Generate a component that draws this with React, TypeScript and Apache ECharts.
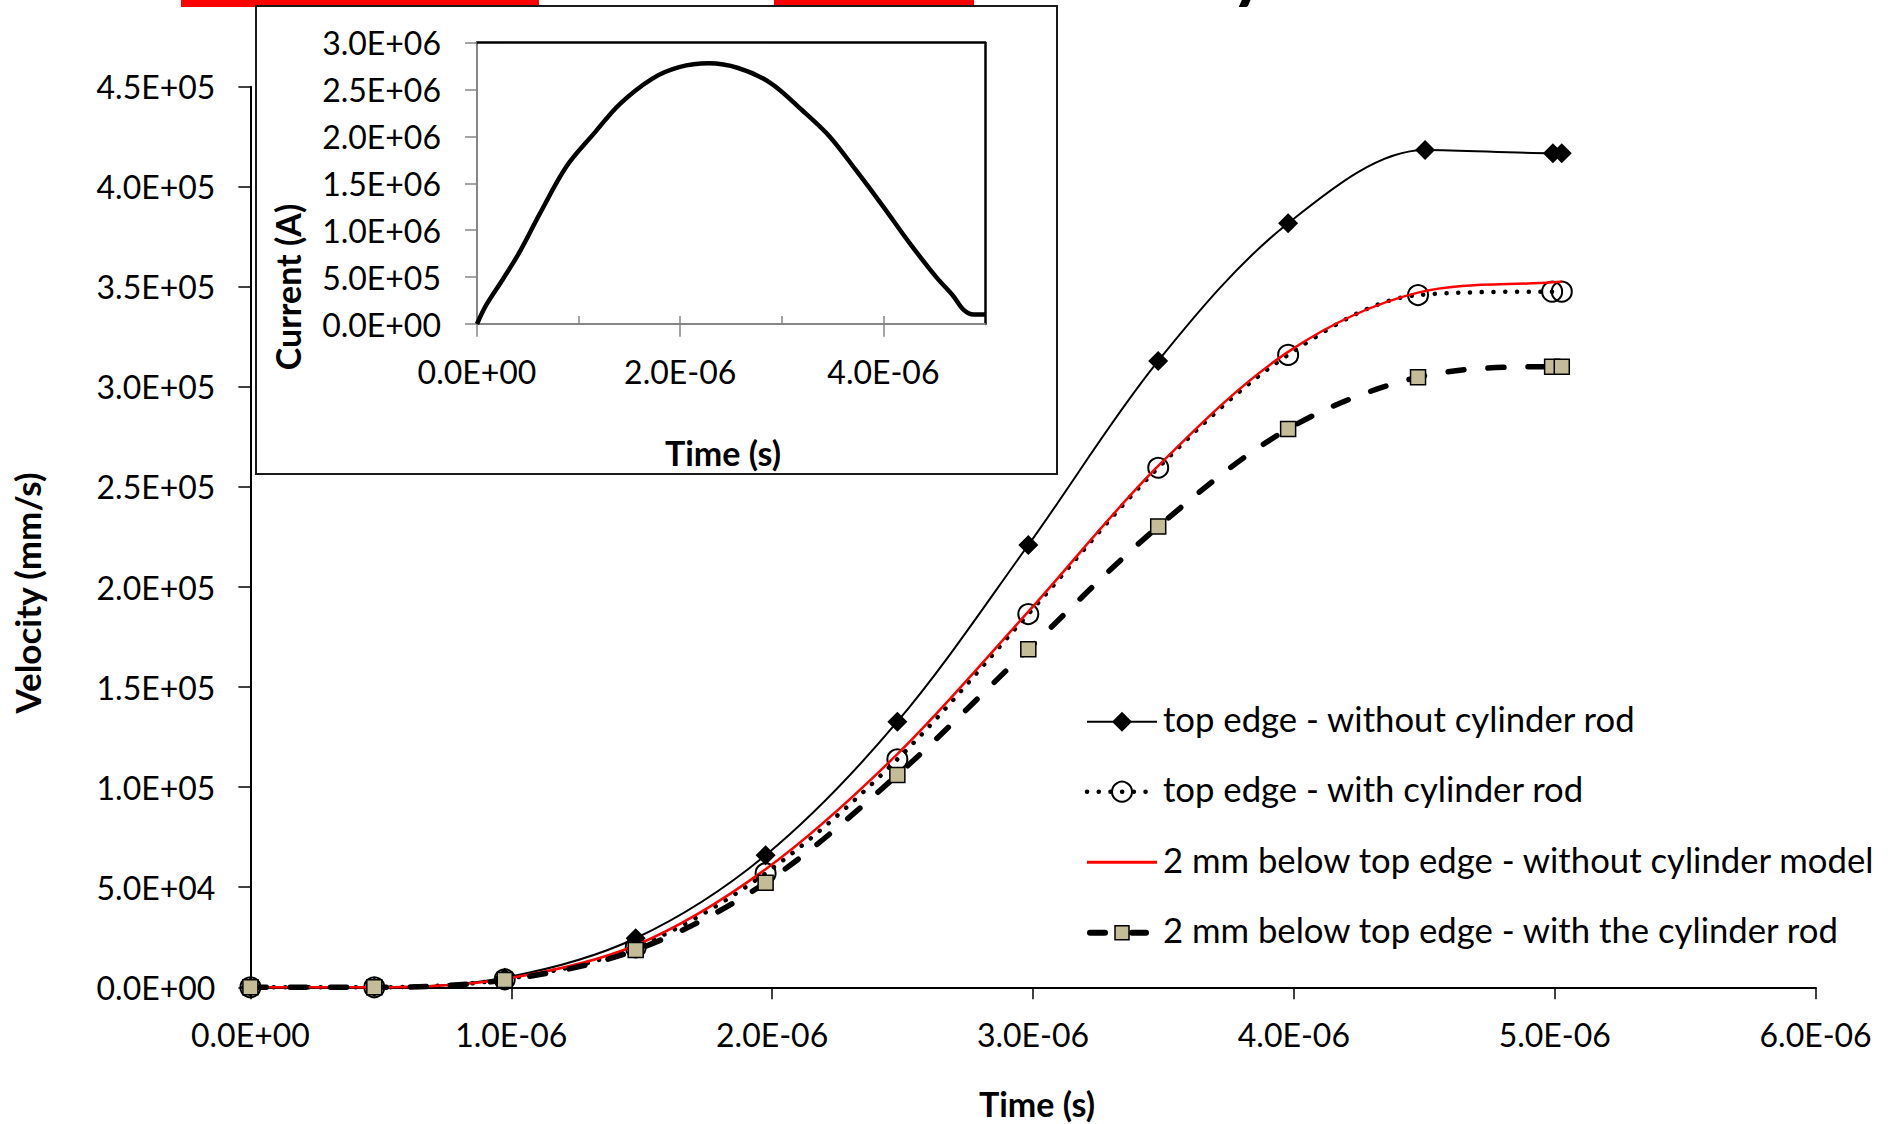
import React, { useEffect, useRef } from 'react';
import * as echarts from 'echarts';

// ---- data (time in seconds, velocity in mm/s, current in A) ----
const timeTopNoRod = [0, 0.475e-6, 0.975e-6, 1.477e-6, 1.975e-6, 2.48e-6, 2.982e-6, 3.48e-6, 3.978e-6, 4.503e-6, 4.993e-6, 5.027e-6];
const timeOther = [0, 0.475e-6, 0.975e-6, 1.477e-6, 1.975e-6, 2.48e-6, 2.982e-6, 3.48e-6, 3.978e-6, 4.476e-6, 4.99e-6, 5.027e-6];
const velTopNoRod = [0, 0, 4800, 24500, 66000, 132700, 221000, 313000, 381800, 418400, 416800, 416800];
const velTopRod = [0, 0, 4000, 20000, 57000, 113900, 186500, 259600, 316000, 345900, 347600, 347600];
const velBelowNoRod = [0, 0, 4200, 21000, 59000, 116500, 187700, 260500, 317500, 347100, 352300, 352600];
const velBelowRod = [0, 0, 3650, 18600, 52300, 106100, 168900, 230200, 279000, 304800, 310100, 310100];

const currentTime = [0, 0.09e-6, 0.25e-6, 0.41e-6, 0.62e-6, 0.88e-6, 1.15e-6, 1.41e-6, 1.73e-6, 1.99e-6, 2.28e-6, 2.57e-6, 2.89e-6, 3.2e-6, 3.47e-6, 3.73e-6, 4.0e-6, 4.26e-6, 4.52e-6, 4.68e-6, 4.79e-6, 4.89e-6, 5.0e-6];
const currentAmps = [0, 0.2e6, 0.47e6, 0.75e6, 1.18e6, 1.68e6, 2.03e6, 2.35e6, 2.62e6, 2.74e6, 2.78e6, 2.73e6, 2.57e6, 2.28e6, 2.0e6, 1.64e6, 1.25e6, 0.86e6, 0.5e6, 0.31e6, 0.15e6, 0.1e6, 0.1e6];

const seriesNames = [
  'top edge - without cylinder rod',
  'top edge - with cylinder rod',
  '2 mm below top edge - without cylinder model',
  '2 mm below top edge - with the cylinder rod',
];
const insetLabelTicks = [0, 2e-6, 4e-6];
const insetInnerTicks = [1e-6, 2e-6, 3e-6, 4e-6];

const FONT = 'Lato, "Noto Sans", sans-serif';
const GRAY = '#868686';
const TAN = '#c4bc96';
const SMOOTH = 0.33;

function sci(v: number): string {
  if (v === 0) return '0.0E+00';
  let e = Math.floor(Math.log10(Math.abs(v)) + 1e-9);
  let s = (v / Math.pow(10, e)).toFixed(1);
  if (s === '10.0') { e += 1; s = '1.0'; }
  return s + 'E' + (e < 0 ? '-' : '+') + String(Math.abs(e)).padStart(2, '0');
}

const zip = (xs: number[], ys: number[]) => xs.map((x, i) => [x, ys[i]]);

function App() {
  const ref = useRef<HTMLDivElement>(null);
  useEffect(() => {
    if (!ref.current) return;
    const chart = echarts.init(ref.current, null, { renderer: 'svg' });

    const legX0 = 1087, legX1 = 1157, legCx = 1122, legTx = 1163;
    const legY = [721.7, 791.7, 862.3, 932.7];
    const legFont = `34.7px ${FONT}`;
    const boldFont = `bold 34px ${FONT}`;

    const legend: any[] = [
      { type: 'line', shape: { x1: legX0, y1: legY[0], x2: legX1, y2: legY[0] }, style: { stroke: '#000', lineWidth: 2 } },
      { type: 'polygon', shape: { points: [[legCx, legY[0] - 10], [legCx + 10, legY[0]], [legCx, legY[0] + 10], [legCx - 10, legY[0]]] }, style: { fill: '#000' } },
      { type: 'line', shape: { x1: legX0, y1: legY[1], x2: legX1, y2: legY[1] }, style: { stroke: '#000', lineWidth: 4.5, lineDash: [0.1, 11.6], lineCap: 'round' } },
      { type: 'circle', shape: { cx: legCx, cy: legY[1], r: 10 }, style: { fill: 'none', stroke: '#000', lineWidth: 2 } },
      { type: 'line', shape: { x1: legX0, y1: legY[2], x2: legX1, y2: legY[2] }, style: { stroke: '#ff0000', lineWidth: 3 } },
      { type: 'line', shape: { x1: legX0 + 3, y1: legY[3], x2: 1105, y2: legY[3] }, style: { stroke: '#000', lineWidth: 6, lineCap: 'round' } },
      { type: 'line', shape: { x1: 1132, y1: legY[3], x2: 1146, y2: legY[3] }, style: { stroke: '#000', lineWidth: 6, lineCap: 'round' } },
      { type: 'rect', shape: { x: legCx - 7, y: legY[3] - 7, width: 14, height: 14 }, style: { fill: TAN, stroke: '#000', lineWidth: 1.5 } },
    ];
    seriesNames.forEach((n, i) => {
      legend.push({ type: 'text', x: legTx, y: legY[i] - 3, style: { text: n, font: legFont, fill: '#000', align: 'left', verticalAlign: 'middle', textAlign: 'left', textVerticalAlign: 'middle' } });
    });

    const centerText = (text: string, x: number, y: number, rot = 0, size = 34) => ({
      type: 'text', x, y, rotation: rot,
      style: { text, font: `bold ${size}px ${FONT}`, fill: '#000', align: 'center', verticalAlign: 'middle', textAlign: 'center', textVerticalAlign: 'middle' },
    });

    const option: any = {
      animation: false,
      backgroundColor: '#fff',
      textStyle: { fontFamily: FONT },
      grid: [
        { left: 250.4, top: 86.7, width: 1565.2, height: 900.6 },
        { left: 477, top: 42.7, width: 508, height: 281.3 },
      ],
      xAxis: [
        {
          gridIndex: 0, type: 'value', min: 0, max: 6e-6, interval: 1e-6,
          axisLine: { onZero: false, lineStyle: { color: '#000', width: 2 } },
          axisTick: { length: 12, lineStyle: { color: '#000', width: 1.5 } },
          axisLabel: { formatter: sci, fontSize: 32, color: '#000', margin: 31, fontFamily: FONT },
          splitLine: { show: false },
        },
        {
          gridIndex: 1, type: 'value', min: 0, max: 5e-6, position: 'bottom',
          axisLine: { onZero: false, lineStyle: { color: GRAY, width: 2 } },
          axisTick: { length: 12.7, lineStyle: { color: GRAY, width: 1.5 }, customValues: insetLabelTicks },
          axisLabel: { formatter: sci, fontSize: 32, color: '#000', margin: 31, fontFamily: FONT, customValues: insetLabelTicks },
          splitLine: { show: false },
        },
        {
          gridIndex: 1, type: 'value', min: 0, max: 5e-6, position: 'top',
          axisLine: { onZero: false, lineStyle: { color: '#000', width: 2.5 } },
          axisTick: { show: false }, axisLabel: { show: false }, splitLine: { show: false },
        },
        {
          gridIndex: 1, type: 'value', min: 0, max: 5e-6, position: 'bottom',
          axisLine: { show: false, onZero: false },
          axisTick: { inside: true, length: 8, lineStyle: { color: GRAY, width: 1.5 }, customValues: insetInnerTicks },
          axisLabel: { show: false }, splitLine: { show: false },
        },
      ],
      yAxis: [
        {
          gridIndex: 0, type: 'value', min: 0, max: 4.5e5, interval: 5e4,
          axisLine: { onZero: false, lineStyle: { color: '#000', width: 2 } },
          axisTick: { length: 12, lineStyle: { color: '#000', width: 1.5 } },
          axisLabel: { formatter: sci, fontSize: 32, color: '#000', margin: 35, fontFamily: FONT },
          splitLine: { show: false },
        },
        {
          gridIndex: 1, type: 'value', min: 0, max: 3e6, interval: 5e5, position: 'left',
          axisLine: { onZero: false, lineStyle: { color: GRAY, width: 2 } },
          axisTick: { length: 12, lineStyle: { color: GRAY, width: 1.5 } },
          axisLabel: { formatter: sci, fontSize: 32, color: '#000', margin: 36, fontFamily: FONT },
          splitLine: { show: false },
        },
        {
          gridIndex: 1, type: 'value', min: 0, max: 3e6, position: 'right',
          axisLine: { onZero: false, lineStyle: { color: '#000', width: 2.5 } },
          axisTick: { show: false }, axisLabel: { show: false }, splitLine: { show: false },
        },
      ],
      series: [
        {
          name: seriesNames[0], type: 'line', xAxisIndex: 0, yAxisIndex: 0, smooth: SMOOTH, clip: false,
          data: zip(timeTopNoRod, velTopNoRod),
          lineStyle: { color: '#000', width: 2 },
          symbol: 'diamond', symbolSize: 20,
          itemStyle: { color: '#000' },
          z: 2,
        },
        {
          name: seriesNames[1], type: 'line', xAxisIndex: 0, yAxisIndex: 0, smooth: SMOOTH, clip: false,
          data: zip(timeOther, velTopRod),
          lineStyle: { color: '#000', width: 4.5, type: [0.1, 11.6], cap: 'round' },
          symbol: 'circle', symbolSize: 20,
          itemStyle: { color: 'rgba(0,0,0,0)', borderColor: '#000', borderWidth: 2 },
          z: 3,
        },
        {
          name: seriesNames[2], type: 'line', xAxisIndex: 0, yAxisIndex: 0, smooth: SMOOTH, clip: false,
          data: zip(timeOther, velBelowNoRod),
          lineStyle: { color: '#ff0000', width: 2.5 },
          symbol: 'none', showSymbol: false,
          itemStyle: { color: '#ff0000' },
          z: 4,
        },
        {
          name: seriesNames[3], type: 'line', xAxisIndex: 0, yAxisIndex: 0, smooth: SMOOTH, clip: false,
          data: zip(timeOther, velBelowRod),
          lineStyle: { color: '#000', width: 5.5, type: [16, 24], cap: 'round' },
          symbol: 'rect', symbolSize: 15,
          itemStyle: { color: TAN, borderColor: '#000', borderWidth: 1.5 },
          z: 5,
        },
        {
          name: 'Current', type: 'line', xAxisIndex: 1, yAxisIndex: 1, smooth: SMOOTH, clip: false,
          data: zip(currentTime, currentAmps),
          lineStyle: { color: '#000', width: 4.5 },
          symbol: 'none', showSymbol: false,
          z: 6,
        },
      ],
      graphic: [
        { type: 'rect', shape: { x: 181, y: 0, width: 358, height: 7 }, style: { fill: '#ff0000' } },
        { type: 'rect', shape: { x: 774, y: 0, width: 200, height: 7 }, style: { fill: '#ff0000' } },
        { type: 'text', x: 1226, y: 1, style: { text: 'y', font: `100px ${FONT}`, fill: '#000', align: 'left', verticalAlign: 'bottom', textAlign: 'left', textVerticalAlign: 'bottom' } },
        { type: 'rect', shape: { x: 256, y: 6, width: 801, height: 468 }, style: { fill: 'none', stroke: '#1a1a1a', lineWidth: 2 } },
        centerText('Velocity (mm/s)', 27, 593, Math.PI / 2, 35),
        centerText('Time (s)', 1037, 1103),
        centerText('Current (A)', 287, 287, Math.PI / 2),
        centerText('Time (s)', 723, 452),
        ...legend,
      ],
    };
    chart.setOption(option);
    return () => chart.dispose();
  }, []);
  return <div ref={ref} style={{ position: 'fixed', left: 0, top: 0, width: 1888, height: 1124 }} />;
}

export default App;
